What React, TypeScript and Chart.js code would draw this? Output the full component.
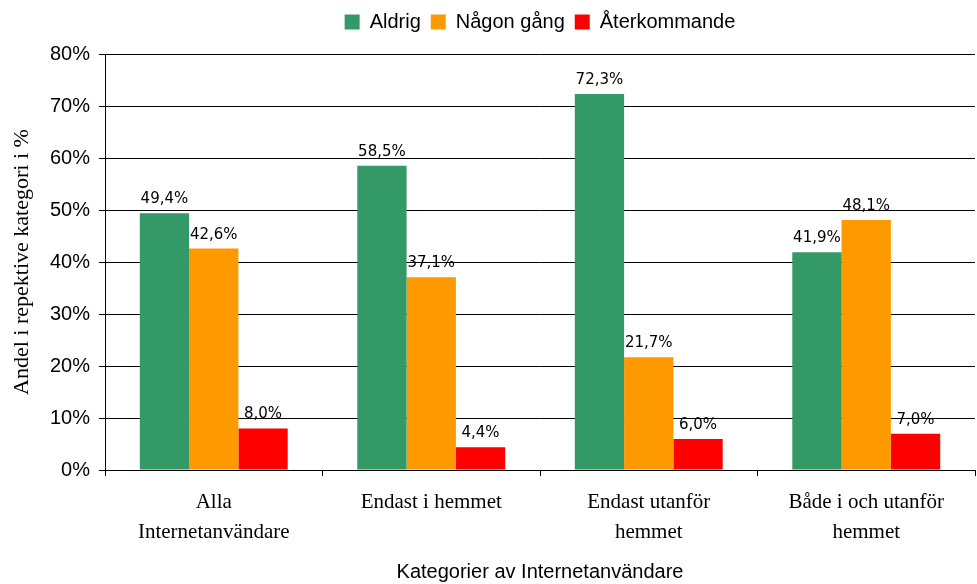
import React, { useEffect, useRef } from "react";
import { Chart, registerables } from "chart.js";

Chart.register(...registerables);

const categories: string[][] = [
  ["Alla", "Internetanvändare"],
  ["Endast i hemmet"],
  ["Endast utanför", "hemmet"],
  ["Både i och utanför", "hemmet"],
];
const seriesNames = ["Aldrig", "Någon gång", "Återkommande"];
const aldrig = [49.4, 58.5, 72.3, 41.9];
const nagonGang = [42.6, 37.1, 21.7, 48.1];
const aterkommande = [8.0, 4.4, 6.0, 7.0];
const seriesColors = ["#339966", "#FF9900", "#FF0000"];
const yTicks = [0, 10, 20, 30, 40, 50, 60, 70, 80];

const SANS = "'Liberation Sans', Arial, sans-serif";
const SERIF = "'Liberation Serif', 'Times New Roman', serif";

const valueLabels = {
  id: "valueLabels",
  afterDatasetsDraw(chart: any) {
    const ctx = chart.ctx;
    ctx.save();
    ctx.font = "15px 'DejaVu Sans', Verdana, sans-serif";
    ctx.fillStyle = "#000";
    ctx.textAlign = "center";
    ctx.textBaseline = "alphabetic";
    chart.data.datasets.forEach((ds: any, i: number) => {
      const meta = chart.getDatasetMeta(i);
      meta.data.forEach((bar: any, j: number) => {
        const v = ds.data[j] as number;
        const txt = v.toFixed(1).replace(".", ",") + "%";
        ctx.fillText(txt, bar.x, bar.y - 10);
      });
    });
    ctx.restore();
  },
};

export default function App() {
  const ref = useRef<HTMLCanvasElement | null>(null);
  useEffect(() => {
    if (!ref.current) return;
    const chart = new Chart(ref.current, {
      type: "bar",
      data: {
        labels: categories,
        datasets: [aldrig, nagonGang, aterkommande].map((d, i) => ({
          label: seriesNames[i],
          data: d,
          backgroundColor: seriesColors[i],
          borderWidth: 0,
          categoryPercentage: 0.68,
          barPercentage: 1,
        })),
      },
      options: {
        responsive: false,
        animation: false,
        layout: { padding: { left: 5, right: 2, top: 2, bottom: 0 } },
        plugins: {
          tooltip: { enabled: false },
          legend: {
            position: "top",
            fullSize: false,
            labels: {
              font: { family: SANS, size: 20 },
              color: "#000",
              boxWidth: 15,
              boxHeight: 15,
              padding: 10,
            },
          },
          subtitle: {
            display: true,
            text: " ",
            position: "top",
            weight: 500,
            font: { size: 1, lineHeight: 1 },
            color: "rgba(0,0,0,0)",
            padding: { top: 11, bottom: 0 },
          },
        },
        scales: {
          x: {
            grid: {
              offset: true,
              drawOnChartArea: false,
              drawTicks: true,
              tickLength: 6,
              color: "#000",
              lineWidth: 1,
            },
            border: { display: true, color: "#000", width: 1 },
            ticks: {
              font: { family: SERIF, size: 21, lineHeight: 1.45 },
              color: "#000",
              padding: 11,
              maxRotation: 0,
              autoSkip: false,
            },
            title: {
              display: true,
              text: "Kategorier av Internetanvändare",
              font: { family: SANS, size: 20 },
              color: "#000",
              padding: { top: 1, bottom: 0 },
            },
          },
          y: {
            min: 0,
            max: 80,
            afterFit: (scale: any) => {
              scale.width = 100;
            },
            afterBuildTicks: (scale: any) => {
              scale.ticks = yTicks.map((v) => ({ value: v }));
            },
            grid: {
              color: "#000",
              lineWidth: 1,
              drawTicks: true,
              tickLength: 6,
            },
            border: { display: true, color: "#000", width: 1 },
            ticks: {
              font: { family: SANS, size: 20 },
              color: "#000",
              padding: 9,
              callback: (v: any) => v + "%",
            },
            title: {
              display: true,
              text: "Andel i repektive kategori i %",
              font: { family: SERIF, size: 22 },
              color: "#000",
              padding: { top: 4, bottom: 4 },
            },
          },
        },
      },
      plugins: [valueLabels],
    });
    return () => chart.destroy();
  }, []);
  return (
    <canvas
      ref={ref}
      width={977}
      height={584}
      style={{ position: "absolute", left: 0, top: 0, background: "#fff" }}
    />
  );
}
